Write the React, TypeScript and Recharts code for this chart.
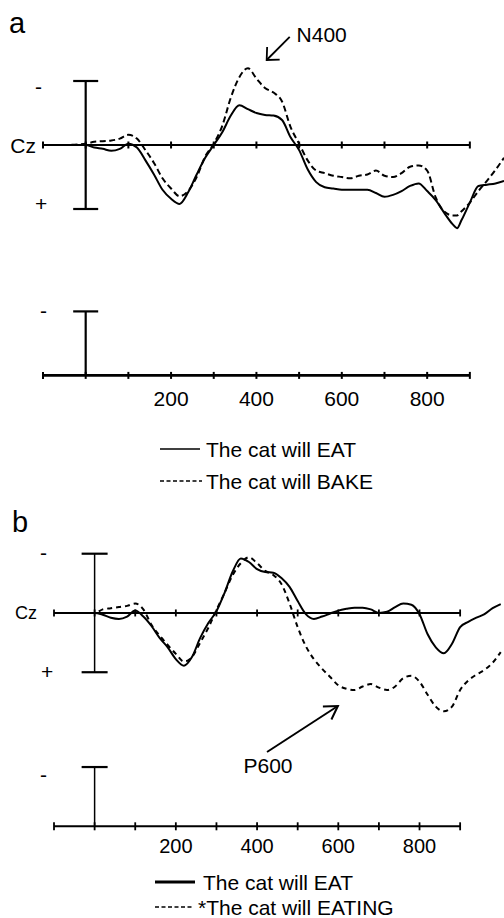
import React from 'react';
import { LineChart, Line, XAxis, YAxis, ReferenceLine, ReferenceDot, Legend } from 'recharts';

const FONT = '"Liberation Sans", Arial, Helvetica, sans-serif';

// ---------- Panel a (EAT vs BAKE), amplitude in microvolts, negative plotted up ----------
const timesA = [-100, -50, 0, 20, 40, 60, 80, 100, 120, 140, 160, 180, 200, 220, 240, 260, 280, 300, 320, 340, 360, 380, 400, 420, 440, 460, 480, 500, 520, 540, 560, 580, 600, 620, 640, 660, 680, 700, 720, 740, 760, 780, 800, 820, 840, 860, 870, 880, 900, 920, 940, 960, 980];
const eatA = [0, 0, 0, 0.2, 0.3, 0.45, 0.3, -0.1, 0.2, 1.2, 2.3, 3.5, 4.2, 4.6, 3.7, 2.3, 1.0, 0, -1.0, -2.3, -3.1, -2.8, -2.5, -2.35, -2.3, -1.95, -0.6, 0.4, 1.9, 2.9, 3.3, 3.4, 3.5, 3.5, 3.5, 3.5, 3.75, 4.05, 3.9, 3.6, 3.2, 3.0, 3.6, 4.3, 5.3, 6.2, 6.5, 5.9, 4.5, 3.2, 3.1, 3.0, 2.8];
const bakeA = [0, 0, -0.1, -0.25, -0.3, -0.35, -0.5, -0.8, -0.5, 0.4, 1.4, 2.6, 3.4, 4.0, 3.6, 2.5, 0.9, -0.1, -1.5, -3.7, -5.3, -6.0, -5.2, -4.45, -4.1, -3.4, -1.4, -0.1, 1.2, 2.0, 2.2, 2.4, 2.5, 2.6, 2.4, 2.3, 2.0, 2.4, 2.5, 2.2, 1.7, 1.6, 2.0, 4.1, 5.2, 5.5, 5.5, 5.2, 4.5, 3.6, 2.8, 1.95, 1.0];

// ---------- Panel b (EAT vs *EATING) ----------
const timesB = [-100, -50, 0, 20, 40, 60, 80, 100, 120, 140, 160, 180, 200, 220, 240, 260, 280, 300, 320, 340, 360, 380, 400, 420, 440, 460, 480, 500, 520, 540, 560, 580, 600, 620, 640, 660, 680, 700, 720, 740, 760, 780, 800, 820, 840, 860, 880, 900, 920, 940, 960, 980, 1000];
const eatB = [0, 0, 0, 0.15, 0.4, 0.5, 0.3, -0.2, 0.3, 1.1, 2.1, 2.9, 3.9, 4.45, 3.7, 2.1, 0.85, -0.15, -1.7, -3.5, -4.6, -4.3, -3.7, -3.45, -3.4, -2.95, -2.2, -1.0, 0.1, 0.5, 0.3, 0.05, -0.2, -0.35, -0.45, -0.45, -0.3, 0.0, -0.1, -0.5, -0.8, -0.7, 0.1, 1.8, 2.9, 3.4, 2.6, 1.2, 0.75, 0.4, 0.1, -0.4, -0.75];
const eatingB = [0, 0, 0, -0.3, -0.4, -0.5, -0.6, -0.8, -0.3, 1.0, 1.9, 2.7, 3.45, 4.1, 3.7, 2.5, 1.25, -0.25, -1.7, -3.2, -4.2, -4.7, -4.2, -3.55, -3.2, -2.45, -0.8, 1.2, 2.8, 3.9, 4.7, 5.4, 6.1, 6.4, 6.5, 6.2, 6.0, 6.3, 6.5, 6.2, 5.5, 5.3, 5.8, 6.9, 7.9, 8.3, 7.9, 6.5, 5.7, 5.2, 4.8, 4.2, 3.3];

// ---------- Shared axis / scale-bar values ----------
const axisTicks = [-100, 0, 100, 200, 300, 400, 500, 600, 700, 800, 900];
const tickLabels = [200, 400, 600, 800];
const errorBar = [-5, 5];
const lowerBar = [13, 18];
const lowerAxisLevel = 18;
const domainA = { x: [-100, 980], y: [-9, 18] };
const domainB = { x: [-100, 1008], y: [-7, 18] };

// ---------- Annotations (data coordinates) ----------
const n400Arrow = [{ x: 478, y: -8.44 }, { x: 424, y: -6.64 }];
const n400Label = { x: 494, y: -8.6, text: 'N400' };
const p600Arrow = [{ x: 424.5, y: 11.73 }, { x: 599, y: 7.85 }];
const p600Label = { x: 427, y: 12.9, text: 'P600' };

const namesA = ['The cat will EAT', 'The cat will BAKE'];
const namesB = ['The cat will EAT', '*The cat will EATING'];

const dataA = timesA.map((t, i) => ({ t, eat: eatA[i], bake: bakeA[i] }));
const dataB = timesB.map((t, i) => ({ t, eat: eatB[i], eating: eatingB[i] }));

const vTick = (h: number, w: number) => (p: any) => (
  <line x1={p.cx} x2={p.cx} y1={p.cy - h} y2={p.cy + h} stroke="#000" strokeWidth={w} />
);
const hCap = (half: number, w: number) => (p: any) => (
  <line x1={p.cx - half} x2={p.cx + half} y1={p.cy} y2={p.cy} stroke="#000" strokeWidth={w} />
);
const textShape = (text: string, dx: number, dy: number, size: number, anchor: string = 'start') => (p: any) => (
  <text x={p.cx + dx} y={p.cy + dy} fontSize={size} fontFamily={FONT} textAnchor={anchor} fill="#000">
    {text}
  </text>
);
const arrowShape = (w: number, head: number, spread: number) => (p: any) => {
  const { x1, y1, x2, y2 } = p;
  const ang = Math.atan2(y1 - y2, x1 - x2);
  const a1 = ang + spread;
  const a2 = ang - spread;
  return (
    <g>
      <line x1={x1} y1={y1} x2={x2} y2={y2} stroke="#000" strokeWidth={w} />
      <polyline
        points={`${x2 + head * Math.cos(a1)},${y2 + head * Math.sin(a1)} ${x2},${y2} ${x2 + head * Math.cos(a2)},${y2 + head * Math.sin(a2)}`}
        fill="none"
        stroke="#000"
        strokeWidth={w}
      />
    </g>
  );
};

const makeLegend = (order: string[], rowYs: number[], lineX: number[][], textX: number[], lineW: number[], dashes: string[]) => (props: any) => {
  const payload = (props.payload || []).slice().sort((a: any, b: any) => order.indexOf(a.value) - order.indexOf(b.value));
  return (
    <svg width={340} height={70} style={{ display: 'block', overflow: 'visible' }}>
      {payload.map((it: any, i: number) => (
        <g key={i}>
          <line x1={lineX[i][0]} x2={lineX[i][1]} y1={rowYs[i]} y2={rowYs[i]} stroke="#000" strokeWidth={lineW[i]} strokeDasharray={dashes[i]} />
          <text x={textX[i]} y={rowYs[i] + 7.5} fontSize={21} fontFamily={FONT} fill="#000">
            {it.value}
          </text>
        </g>
      ))}
    </svg>
  );
};

const legendA = makeLegend(namesA, [19, 51], [[5, 45], [5, 47]], [51, 51], [1.3, 1.3], ['', '4 2.5']);
const legendB = makeLegend(namesB, [12, 37], [[5, 45], [5, 42]], [53, 48], [3, 1.4], ['', '4 2.5']);

function PanelA() {
  return (
    <LineChart width={504} height={500} data={dataA} margin={{ top: 29.8, right: 0, bottom: 94.6, left: 43 }}>
      <XAxis dataKey="t" type="number" domain={domainA.x} ticks={tickLabels} interval={0} axisLine={false} tickLine={false} tickSize={0} tickMargin={16} height={30}
        tick={{ fontSize: 21, fill: '#000', fontFamily: FONT }} />
      <YAxis type="number" domain={domainA.y} reversed hide />
      <ReferenceLine segment={[{ x: axisTicks[0], y: 0 }, { x: axisTicks[axisTicks.length - 1], y: 0 }]} stroke="#000" strokeWidth={2} ifOverflow="visible" />
      {axisTicks.map((t) => (
        <ReferenceDot key={'b' + t} x={t} y={0} r={0} ifOverflow="visible" shape={vTick(3.5, 2)} />
      ))}
      <ReferenceLine segment={[{ x: axisTicks[0], y: lowerAxisLevel }, { x: axisTicks[axisTicks.length - 1], y: lowerAxisLevel }]} stroke="#000" strokeWidth={2.6} ifOverflow="visible" />
      {axisTicks.map((t) => (
        <ReferenceDot key={'l' + t} x={t} y={lowerAxisLevel} r={0} ifOverflow="visible" shape={vTick(3.5, 2)} />
      ))}
      <ReferenceLine segment={[{ x: 0, y: errorBar[0] }, { x: 0, y: errorBar[1] }]} stroke="#000" strokeWidth={2.2} ifOverflow="visible" />
      <ReferenceDot x={0} y={errorBar[0]} r={0} ifOverflow="visible" shape={hCap(12.5, 2.2)} />
      <ReferenceDot x={0} y={errorBar[1]} r={0} ifOverflow="visible" shape={hCap(12.5, 2.2)} />
      <ReferenceLine segment={[{ x: 0, y: lowerBar[0] }, { x: 0, y: lowerBar[1] }]} stroke="#000" strokeWidth={2.2} ifOverflow="visible" />
      <ReferenceDot x={0} y={lowerBar[0]} r={0} ifOverflow="visible" shape={hCap(12.5, 2.2)} />
      <ReferenceDot x={axisTicks[0]} y={domainA.y[0]} r={0} ifOverflow="visible" shape={textShape('a', -34, 3.5, 29)} />
      <ReferenceDot x={axisTicks[0]} y={0} r={0} ifOverflow="visible" shape={textShape('Cz', -7, 7.5, 21, 'end')} />
      <ReferenceDot x={axisTicks[0]} y={errorBar[0]} r={0} ifOverflow="visible" shape={textShape('-', -8, 12.7, 21)} />
      <ReferenceDot x={axisTicks[0]} y={errorBar[1]} r={0} ifOverflow="visible" shape={textShape('+', -8, 2, 21)} />
      <ReferenceDot x={axisTicks[0]} y={lowerBar[0]} r={0} ifOverflow="visible" shape={textShape('-', -3, 6.3, 21)} />
      <ReferenceLine segment={n400Arrow} ifOverflow="visible" shape={arrowShape(1.8, 13, 0.75)} />
      <ReferenceDot x={n400Label.x} y={n400Label.y} r={0} ifOverflow="visible" shape={textShape(n400Label.text, 0, 7.5, 21)} />
      <Line dataKey="eat" name={namesA[0]} type="monotone" stroke="#000" strokeWidth={2} dot={false} isAnimationActive={false} />
      <Line dataKey="bake" name={namesA[1]} type="monotone" stroke="#000" strokeWidth={2} strokeDasharray="6 3.5" dot={false} isAnimationActive={false} />
      <Legend layout="vertical" align="center" verticalAlign="middle" wrapperStyle={{ left: 155, top: 430, width: 340 }} content={legendA} />
    </LineChart>
  );
}

function PanelB() {
  return (
    <LineChart width={504} height={418} data={dataB} margin={{ top: 30, right: 0, bottom: 61.7, left: 54 }}>
      <XAxis dataKey="t" type="number" domain={domainB.x} ticks={tickLabels} interval={0} axisLine={false} tickLine={false} tickSize={0} tickMargin={12.5} height={30}
        tick={{ fontSize: 20, fill: '#000', fontFamily: FONT }} />
      <YAxis type="number" domain={domainB.y} reversed hide />
      <ReferenceLine segment={[{ x: axisTicks[0], y: 0 }, { x: axisTicks[axisTicks.length - 1], y: 0 }]} stroke="#000" strokeWidth={2} ifOverflow="visible" />
      {axisTicks.map((t) => (
        <ReferenceDot key={'b' + t} x={t} y={0} r={0} ifOverflow="visible" shape={vTick(3.5, 1.8)} />
      ))}
      <ReferenceLine segment={[{ x: axisTicks[0], y: lowerAxisLevel }, { x: axisTicks[axisTicks.length - 1], y: lowerAxisLevel }]} stroke="#000" strokeWidth={2} ifOverflow="visible" />
      {axisTicks.map((t) => (
        <ReferenceDot key={'l' + t} x={t} y={lowerAxisLevel} r={0} ifOverflow="visible" shape={vTick(4, 1.8)} />
      ))}
      <ReferenceLine segment={[{ x: 0, y: errorBar[0] }, { x: 0, y: errorBar[1] }]} stroke="#000" strokeWidth={1.5} ifOverflow="visible" />
      <ReferenceDot x={0} y={errorBar[0]} r={0} ifOverflow="visible" shape={hCap(13, 2.2)} />
      <ReferenceDot x={0} y={errorBar[1]} r={0} ifOverflow="visible" shape={hCap(13, 2.2)} />
      <ReferenceLine segment={[{ x: 0, y: lowerBar[0] }, { x: 0, y: lowerBar[1] }]} stroke="#000" strokeWidth={1.5} ifOverflow="visible" />
      <ReferenceDot x={0} y={lowerBar[0]} r={0} ifOverflow="visible" shape={hCap(13, 2.2)} />
      <ReferenceDot x={axisTicks[0]} y={domainB.y[0]} r={0} ifOverflow="visible" shape={textShape('b', -42, 2, 29)} />
      <ReferenceDot x={axisTicks[0]} y={0} r={0} ifOverflow="visible" shape={textShape('Cz', -17, 6.5, 18, 'end')} />
      <ReferenceDot x={axisTicks[0]} y={errorBar[0]} r={0} ifOverflow="visible" shape={textShape('-', -14, 6, 21)} />
      <ReferenceDot x={axisTicks[0]} y={errorBar[1]} r={0} ifOverflow="visible" shape={textShape('+', -13, 6.8, 21)} />
      <ReferenceDot x={axisTicks[0]} y={lowerBar[0]} r={0} ifOverflow="visible" shape={textShape('-', -14, 14.7, 21)} />
      <ReferenceLine segment={p600Arrow} ifOverflow="visible" shape={arrowShape(2, 15, 0.55)} />
      <ReferenceDot x={p600Label.x} y={p600Label.y} r={0} ifOverflow="visible" shape={textShape(p600Label.text, 0, 7.5, 21, 'middle')} />
      <Line dataKey="eat" name={namesB[0]} type="monotone" stroke="#000" strokeWidth={2} dot={false} isAnimationActive={false} />
      <Line dataKey="eating" name={namesB[1]} type="monotone" stroke="#000" strokeWidth={2} strokeDasharray="5 4" dot={false} isAnimationActive={false} />
      <Legend layout="vertical" align="center" verticalAlign="middle" wrapperStyle={{ left: 150, top: 370, width: 340 }} content={legendB} />
    </LineChart>
  );
}

export default function App() {
  return (
    <div style={{ position: 'absolute', left: 0, top: 0, width: 504, height: 918, background: '#fff', overflow: 'hidden' }}>
      <div style={{ position: 'absolute', left: 0, top: 0 }}>
        <PanelA />
      </div>
      <div style={{ position: 'absolute', left: 0, top: 500 }}>
        <PanelB />
      </div>
    </div>
  );
}
